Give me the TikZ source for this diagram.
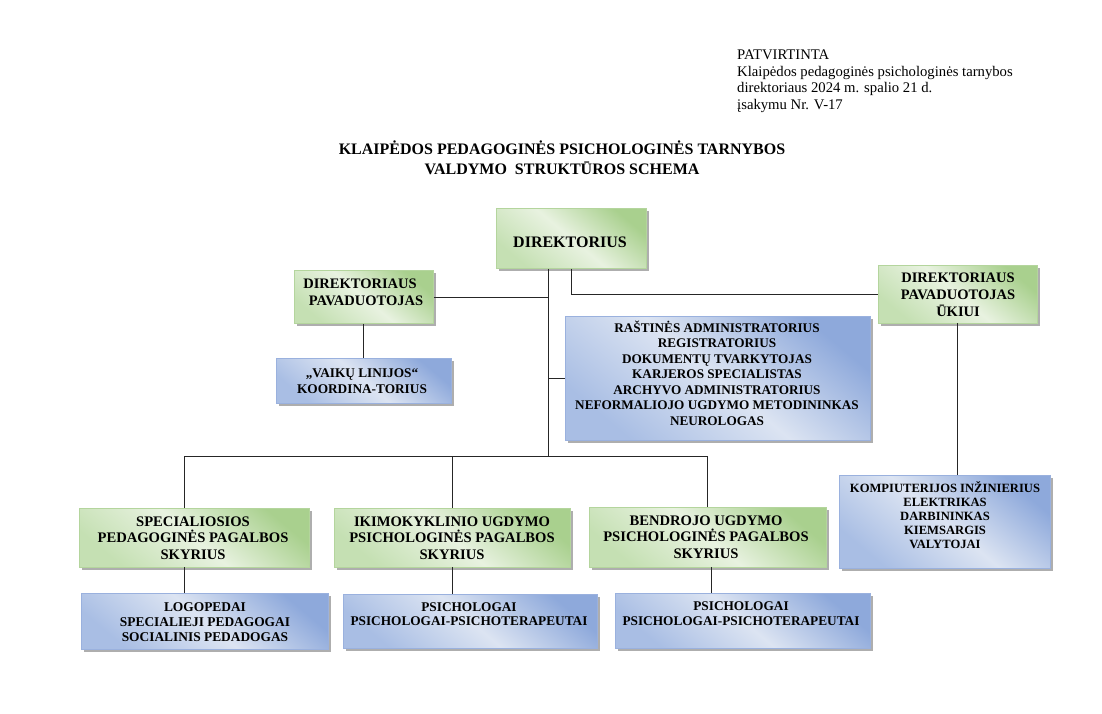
\documentclass[tikz,border=0pt]{standalone}
\usepackage{fontspec}
\setmainfont{Liberation Serif}
\usetikzlibrary{shadows}
\definecolor{gDark}{HTML}{A9D08E}
\definecolor{gTop}{HTML}{C5E0B3}
\definecolor{gLight}{HTML}{E8F2E0}
\definecolor{gEdge}{HTML}{B4D59D}
\definecolor{bDark}{HTML}{8EA9DB}
\definecolor{bLight}{HTML}{DCE4F2}
\definecolor{bLow}{HTML}{A9BEE4}
\definecolor{bEdge}{HTML}{9AB1DE}
\definecolor{lineC}{HTML}{262626}
\newcommand{\setfs}[2]{\fontsize{#1}{#2}\selectfont}
\tikzset{
  shadowed/.style={drop shadow={shadow xshift=2.5pt, shadow yshift=-2.5pt, fill=black!45, opacity=0.7}},
  gbox/.style={draw=gEdge, line width=0.8pt, top color=gDark, bottom color=gTop, middle color=gLight, shading angle=-40, shadowed, inner sep=0pt},
  bbox/.style={draw=bEdge, line width=0.8pt, top color=bDark, bottom color=bLow, middle color=bLight, shading angle=-40, shadowed, inner sep=0pt},
  conn/.style={draw=lineC, line width=1pt},
  lbl/.style={align=center, inner sep=0pt},
}
\begin{document}
\begin{tikzpicture}[x=1pt,y=-1pt]
\fill[white] (0,0) rectangle (1102,714);
\useasboundingbox (0,0) rectangle (1102,714);

% header
\node[anchor=north west, align=left, inner sep=0pt, font=\setfs{14.7}{16.7}] (hdr) at (737,49.5)
  {PATVIRTINTA\\Klaipėdos pedagoginės psichologinės tarnybos\\direktoriaus 2024 m. spalio 21 d.\\įsakymu Nr. V-17};
\node[lbl, font=\bfseries\setfs{16}{19.5}] (title) at (562,158)
  {KLAIPĖDOS PEDAGOGINĖS PSICHOLOGINĖS TARNYBOS\\VALDYMO~~STRUKTŪROS SCHEMA};

% boxes
\node[gbox, minimum width=150pt, minimum height=60pt] (dir) at (571.5,238.5) {};
\node[gbox, minimum width=139pt, minimum height=53pt] (pavL) at (363.7,297) {};
\node[gbox, minimum width=159pt, minimum height=58pt] (pavR) at (957.7,294) {};
\node[bbox, minimum width=175pt, minimum height=45pt] (vaiku) at (363.7,380.5) {};
\node[bbox, minimum width=305pt, minimum height=124pt] (admin) at (717.5,378) {};
\node[bbox, minimum width=211pt, minimum height=93pt] (ukis) at (944.5,521.5) {};
\node[gbox, minimum width=230pt, minimum height=59pt] (spec) at (194,537.5) {};
\node[gbox, minimum width=236pt, minimum height=59pt] (iki) at (452,537.5) {};
\node[gbox, minimum width=237pt, minimum height=60pt] (ben) at (707.5,537) {};
\node[bbox, minimum width=247pt, minimum height=56pt] (logo) at (204.5,621) {};
\node[bbox, minimum width=254pt, minimum height=54pt] (psiA) at (470,621) {};
\node[bbox, minimum width=255pt, minimum height=55pt] (psiB) at (742.5,620.5) {};

% box texts
\node[lbl, font=\bfseries\setfs{16}{19}] (dirT) at (570,242) {DIREKTORIUS};
\node[lbl, font=\bfseries\setfs{14.5}{17}] (pavLT) at (363,292) {DIREKTORIAUS\hspace*{6pt}\\\hspace*{6pt}PAVADUOTOJAS};
\node[lbl, font=\bfseries\setfs{14.5}{17}] (pavRT) at (958,294.5) {DIREKTORIAUS\\PAVADUOTOJAS\\ŪKIUI};
\node[lbl, font=\bfseries\setfs{13.3}{16}] (vaikuT) at (362,381.5) {„VAIKŲ LINIJOS“\\KOORDINA-TORIUS};
\node[lbl, font=\bfseries\setfs{13.2}{15.5}] (adminT) at (717,373)
  {RAŠTINĖS ADMINISTRATORIUS\\REGISTRATORIUS\\DOKUMENTŲ TVARKYTOJAS\\KARJEROS SPECIALISTAS\\ARCHYVO ADMINISTRATORIUS\\NEFORMALIOJO UGDYMO METODININKAS\\NEUROLOGAS};
\node[lbl, font=\bfseries\setfs{12.6}{14}] (ukisT) at (945,515.5)
  {KOMPIUTERIJOS INŽINIERIUS\\ELEKTRIKAS\\DARBININKAS\\KIEMSARGIS\\VALYTOJAI};
\node[lbl, font=\bfseries\setfs{14.6}{16.5}] (specT) at (193,538) {SPECIALIOSIOS\\PEDAGOGINĖS PAGALBOS\\SKYRIUS};
\node[lbl, font=\bfseries\setfs{14.6}{16.5}] (ikiT) at (452,538) {IKIMOKYKLINIO UGDYMO\\PSICHOLOGINĖS PAGALBOS\\SKYRIUS};
\node[lbl, font=\bfseries\setfs{14.6}{16.5}] (benT) at (706,537) {BENDROJO UGDYMO\\PSICHOLOGINĖS PAGALBOS\\SKYRIUS};
\node[lbl, font=\bfseries\setfs{13.4}{15}] (logoT) at (205,622) {LOGOPEDAI\\SPECIALIEJI PEDAGOGAI\\SOCIALINIS PEDADOGAS};
\node[lbl, font=\bfseries\setfs{13.3}{14.5}] (psiAT) at (469,614) {PSICHOLOGAI\\PSICHOLOGAI-PSICHOTERAPEUTAI};
\node[lbl, font=\bfseries\setfs{13.3}{14.5}] (psiBT) at (741,613.5) {PSICHOLOGAI\\PSICHOLOGAI-PSICHOTERAPEUTAI};

% junction coordinates
\coordinate (trunk) at (548,456);
\coordinate (busL) at (184,456);
\coordinate (busR) at (707.5,456);
\coordinate (benX) at (711,580);

% connectors
\draw[conn] (trunk |- dir.south) -- (trunk);
\draw[conn] (pavL.east) -- (pavL.east -| trunk);
\draw[conn] (admin.west) -- (admin.west -| trunk);
\draw[conn] (dir.south) |- (pavR.west);
\draw[conn] (pavL.south) -- (vaiku.north);
\draw[conn] (pavR.south) -- (pavR.south |- ukis.north);
\draw[conn] (busL) -- (busR);
\draw[conn] (busL) -- (busL |- spec.north);
\draw[conn] (iki.north |- busL) -- (iki.north);
\draw[conn] (busR) -- (busR |- ben.north);
\draw[conn] (busL |- spec.south) -- (busL |- logo.north);
\draw[conn] (iki.south) -- (iki.south |- psiA.north);
\draw[conn] (benX |- ben.south) -- (benX |- psiB.north);
\end{tikzpicture}
\end{document}
